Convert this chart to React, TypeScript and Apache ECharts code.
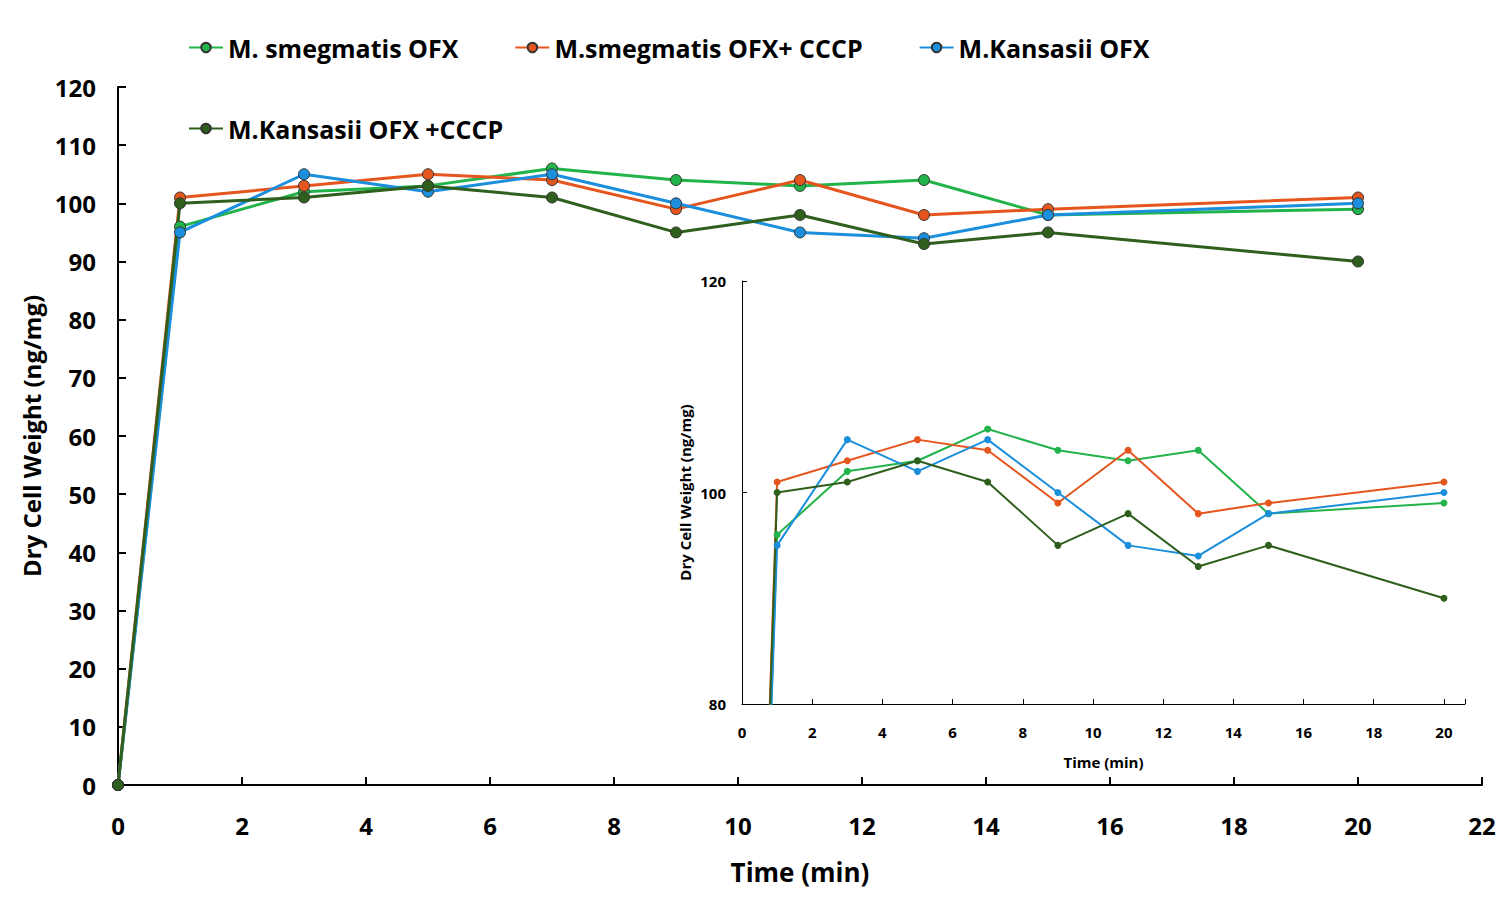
import React, { useEffect, useRef } from 'react';
import * as echarts from 'echarts';

const times = [0, 1, 3, 5, 7, 9, 11, 13, 15, 20];
const seriesNames = ['M. smegmatis OFX', 'M.smegmatis OFX+ CCCP', 'M.Kansasii OFX', 'M.Kansasii OFX +CCCP'];
const smegOfx = [0, 96, 102, 103, 106, 104, 103, 104, 98, 99];
const smegCccp = [0, 101, 103, 105, 104, 99, 104, 98, 99, 101];
const kansOfx = [0, 95, 105, 102, 105, 100, 95, 94, 98, 100];
const kansCccp = [0, 100, 101, 103, 101, 95, 98, 93, 95, 90];
const colors = ['#22b34a', '#e5561f', '#1b8fdc', '#2f5f1c'];

const App: React.FC = () => {
  const chartRef = useRef<HTMLDivElement>(null);

  useEffect(() => {
    const chart = echarts.init(chartRef.current, null, { renderer: 'svg' });
    const values = [smegOfx, smegCccp, kansOfx, kansCccp];
    const axisLine = { show: true, lineStyle: { color: '#000', width: 2 } };
    const series: any[] = [];
    values.forEach((vals, i) => {
      const data = times.map((t, j) => [t, vals[j]]);
      series.push({
        name: seriesNames[i], type: 'line', xAxisIndex: 0, yAxisIndex: 0, data,
        symbol: 'circle', symbolSize: 11,
        lineStyle: { color: colors[i], width: 3 },
        itemStyle: { color: colors[i], borderColor: '#333', borderWidth: 1 },
      });
      series.push({
        name: seriesNames[i], type: 'line', xAxisIndex: 1, yAxisIndex: 1, data,
        symbol: 'circle', symbolSize: 7, clip: true,
        lineStyle: { color: colors[i], width: 2 },
        itemStyle: { color: colors[i] },
      });
    });
    chart.setOption({
      animation: false,
      color: colors,
      legend: {
        top: 22, left: 175, itemGap: 56, itemWidth: 34, itemHeight: 12,
        data: seriesNames,
        textStyle: { fontSize: 25, fontWeight: 'bold', color: '#000', fontFamily: 'Open Sans' },
      },
      grid: [
        { left: 110, right: 20, top: 79, bottom: 104 },
        { left: 734, right: 37, top: 273, bottom: 186 },
      ],
      xAxis: [
        {
          type: 'value', gridIndex: 0, min: 0, max: 22, interval: 2, axisLine,
          axisTick: { show: true, inside: true, length: 8, lineStyle: { width: 2 } },
          splitLine: { show: false },
          axisLabel: { fontSize: 24, fontWeight: 'bold', color: '#000', margin: 28, fontFamily: 'Open Sans' },
          name: 'Time (min)', nameLocation: 'middle', nameGap: 74,
          nameTextStyle: { fontSize: 26, fontWeight: 'bold', color: '#000', fontFamily: 'Open Sans' },
        },
        {
          type: 'value', gridIndex: 1, min: 0, max: 20.6, interval: 2,
          axisLine: { show: true, lineStyle: { color: '#000', width: 1 } },
          axisTick: { show: true, inside: true, length: 5 }, splitLine: { show: false },
          axisLabel: {
            fontSize: 15, fontWeight: 'bold', color: '#000', margin: 20, fontFamily: 'Open Sans',
            formatter: (v: number) => (v > 20 ? '' : String(v)),
          },
          name: 'Time (min)', nameLocation: 'middle', nameGap: 50,
          nameTextStyle: { fontSize: 15, fontWeight: 'bold', color: '#000', fontFamily: 'Open Sans' },
        },
      ],
      yAxis: [
        {
          type: 'value', gridIndex: 0, min: 0, max: 120, interval: 10, axisLine,
          axisTick: { show: true, inside: true, length: 8, lineStyle: { width: 2 } },
          splitLine: { show: false },
          axisLabel: { fontSize: 24, fontWeight: 'bold', color: '#000', margin: 22, fontFamily: 'Open Sans' },
          name: 'Dry Cell Weight (ng/mg)', nameLocation: 'middle', nameGap: 70,
          nameTextStyle: { fontSize: 24, fontWeight: 'bold', color: '#000', fontFamily: 'Open Sans' },
        },
        {
          type: 'value', gridIndex: 1, min: 80, max: 120, interval: 20,
          axisLine: { show: true, lineStyle: { color: '#000', width: 1 } },
          axisTick: { show: true, inside: true, length: 5 }, splitLine: { show: false },
          axisLabel: { fontSize: 15, fontWeight: 'bold', color: '#000', margin: 16, fontFamily: 'Open Sans' },
          name: 'Dry Cell Weight (ng/mg)', nameLocation: 'middle', nameGap: 50,
          nameTextStyle: { fontSize: 15, fontWeight: 'bold', color: '#000', fontFamily: 'Open Sans' },
        },
      ],
      series,
    });
    return () => {
      chart.dispose();
    };
  }, []);

  return <div ref={chartRef} style={{ width: 1494, height: 882 }}></div>;
};

export default App;
